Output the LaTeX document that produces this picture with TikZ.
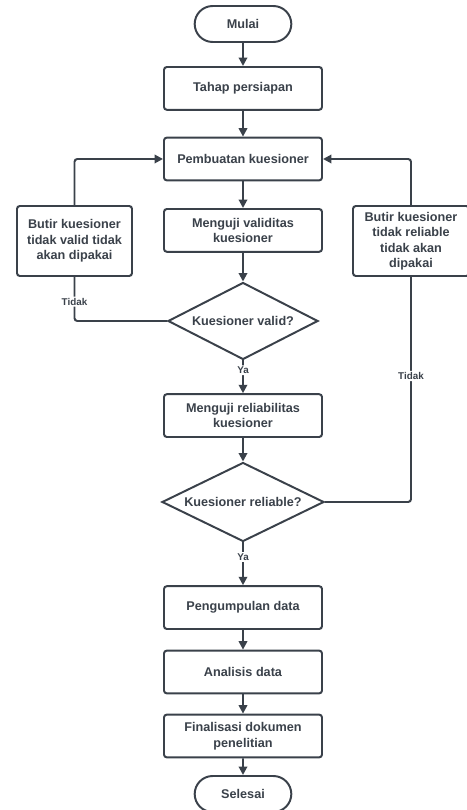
\documentclass[tikz,border=0pt]{standalone}
\usepackage{fontspec}
\setmainfont{Liberation Sans}
\definecolor{chartgray}{HTML}{3A414A}
\usetikzlibrary{shapes, arrows.meta}

\begin{document}
\begin{tikzpicture}[
        font=\fontsize{9}{11}\selectfont\bfseries,
        box/.style={draw=chartgray, line width=1.4pt, rounded corners=2pt, fill=white,
                     text=chartgray, minimum width=3.95cm, minimum height=1.07cm,
                     align=center},
        term/.style={draw=chartgray, line width=1.4pt, rounded rectangle, fill=white,
                     text=chartgray, minimum width=2.65cm, minimum height=0.9cm},
        decision/.style={draw=chartgray, line width=1.4pt, diamond, aspect=2,
                     inner sep=0pt, fill=white, text=chartgray},
        link/.style={draw=chartgray, line width=1.4pt, rounded corners=2pt},
        arr/.style={link, -{Triangle[length=6pt, width=6pt]}},
        lbl/.style={fill=white, text=chartgray, inner sep=1pt,
                     font=\fontsize{7}{8}\selectfont\bfseries}
      ]
        \useasboundingbox (0,0) rectangle (11.675,20.25);

        \node[term] (start) at (6.075,19.65) {Mulai};
        \node[box] (prep) at (6.075,18.04) {Tahap persiapan};
        \node[box] (make) at (6.075,16.275) {Pembuatan kuesioner};
        \node[box] (validtest) at (6.075,14.49) {Menguji validitas\\kuesioner};
        \node[decision, minimum width=3.75cm, minimum height=1.925cm] (dvalid) at (6.075,12.225) {Kuesioner valid?};
        \node[box] (reltest) at (6.075,9.86) {Menguji reliabilitas\\kuesioner};
        \node[decision, minimum width=4.05cm, minimum height=1.975cm] (drel) at (6.075,7.7) {Kuesioner reliable?};
        \node[box] (collect) at (6.075,5.06) {Pengumpulan data};
        \node[box] (analyse) at (6.075,3.45) {Analisis data};
        \node[box] (final) at (6.075,1.85) {Finalisasi dokumen\\penelitian};
        \node[term] (finish) at (6.075,0.4) {Selesai};

        \node[box, minimum width=2.875cm, minimum height=1.75cm] (failv) at (1.8625,14.225) {Butir kuesioner\\tidak valid tidak\\akan dipakai};
        \node[box, minimum width=2.9cm, minimum height=1.75cm] (failr) at (10.275,14.225) {Butir kuesioner\\tidak reliable\\tidak akan\\dipakai};

        \draw[arr] (start) -- (prep);
        \draw[arr] (prep) -- (make);
        \draw[arr] (make) -- (validtest);
        \draw[arr] (validtest) -- (dvalid);
        \draw[arr] (dvalid) -- node[lbl, pos=0.3] {Ya} (reltest);
        \draw[arr] (reltest) -- (drel);
        \draw[arr] (drel) -- node[lbl, pos=0.34] {Ya} (collect);
        \draw[arr] (collect) -- (analyse);
        \draw[arr] (analyse) -- (final);
        \draw[arr] (final) -- (finish);

        \draw[link] (dvalid.west) -| node[lbl, pos=0.72] {Tidak} (failv.south);
        \draw[arr] (failv.north) |- (make.west);
        \draw[link] (drel.east) -| node[lbl, pos=0.78] {Tidak} (failr.south);
        \draw[arr] (failr.north) |- (make.east);
      \end{tikzpicture}
\end{document}
